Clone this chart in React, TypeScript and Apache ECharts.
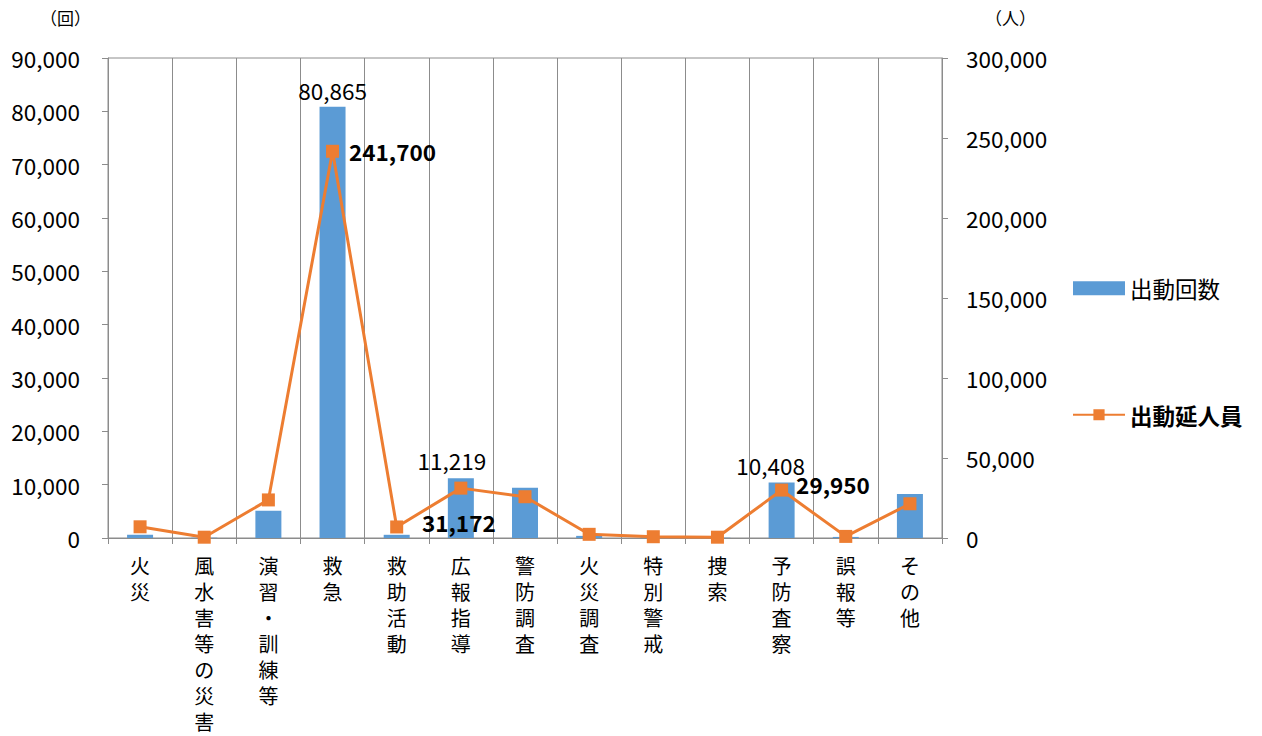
import React, { useEffect, useRef } from "react";
import * as echarts from "echarts";

const categories = [
  "火災",
  "風水害等の災害",
  "演習・訓練等",
  "救急",
  "救助活動",
  "広報指導",
  "警防調査",
  "火災調査",
  "特別警戒",
  "捜索",
  "予防査察",
  "誤報等",
  "その他",
];
const dispatchCounts = [600, 60, 5100, 80865, 600, 11219, 9400, 400, 120, 60, 10408, 200, 8250];
const dispatchPersons = [7000, 500, 23800, 241700, 6900, 31172, 25800, 2300, 800, 500, 29950, 1000, 21400];
const leftTicks = { min: 0, max: 90000, interval: 10000 };
const rightTicks = { min: 0, max: 300000, interval: 50000 };

const FONT = "'Noto Sans CJK JP', 'Noto Sans', sans-serif";
const BAR = "#5B9BD5";
const LINE = "#ED7D31";
const GRIDC = "#8c8c8c";
const NUM = 22.5;
const fmt = (v: number) => v.toLocaleString("en-US");

export default function App() {
  const ref = useRef<HTMLDivElement>(null);
  useEffect(() => {
    document.body.style.margin = "0";
    const chart = echarts.init(ref.current!, null, { renderer: "svg" });

    const barLabels: Record<number, any> = {
      3: { show: true, position: "top", distance: 5 },
      5: { show: true, position: "top", distance: 7, offset: [-9, 0] },
      10: { show: true, position: "top", distance: 6, offset: [-11, 0] },
    };
    const lineLabels: Record<number, any> = {
      3: { show: true, position: "right", distance: 10, fontWeight: "bold" },
      5: { show: true, position: "bottom", distance: 16, offset: [-2, 0], fontWeight: "bold" },
      10: { show: true, position: "right", distance: 8, offset: [0, -6], fontWeight: "bold" },
    };

    const labelBase = {
      fontFamily: FONT,
      fontSize: NUM,
      color: "#000",
      formatter: (p: any) => fmt(p.value),
    };

    chart.setOption({
      animation: false,
      textStyle: { fontFamily: FONT },
      grid: {
        left: 108,
        right: 320,
        top: 58,
        bottom: 198,
        show: true,
        borderColor: GRIDC,
        borderWidth: 1,
      },
      legend: {
        orient: "vertical",
        left: 1072,
        top: 277,
        padding: 0,
        itemGap: 104,
        itemWidth: 52,
        itemHeight: 14,
        textStyle: { fontFamily: FONT, fontSize: NUM, color: "#000" },
        data: [
          { name: "出動回数", icon: "rect" },
          { name: "出動延人員", textStyle: { fontWeight: "bold" } },
        ],
      },
      graphic: [
        { type: "text", left: 40, top: 9, style: { text: "（回）", font: `17px ${FONT}`, fill: "#000" } },
        { type: "text", left: 985, top: 9, style: { text: "（人）", font: `17px ${FONT}`, fill: "#000" } },
      ],
      xAxis: {
        type: "category",
        data: categories,
        axisLine: { lineStyle: { color: GRIDC, width: 1 } },
        axisTick: { show: true, length: 6, lineStyle: { color: GRIDC } },
        splitLine: { show: true, interval: 0, lineStyle: { color: GRIDC, width: 1 } },
        axisLabel: {
          interval: 0,
          margin: 14,
          fontFamily: FONT,
          fontSize: 20,
          lineHeight: 26,
          color: "#000",
          verticalAlign: "top",
          formatter: (v: string) => v.split("").join("\n"),
        },
      },
      yAxis: [
        {
          type: "value",
          ...leftTicks,
          position: "left",
          axisLine: { show: true, lineStyle: { color: GRIDC } },
          axisTick: { show: true, length: 6, lineStyle: { color: GRIDC } },
          splitLine: { show: false },
          axisLabel: { fontFamily: FONT, fontSize: NUM, color: "#000", margin: 28, formatter: fmt },
        },
        {
          type: "value",
          ...rightTicks,
          position: "right",
          axisLine: { show: true, lineStyle: { color: GRIDC } },
          axisTick: { show: true, length: 6, lineStyle: { color: GRIDC } },
          splitLine: { show: false },
          axisLabel: { fontFamily: FONT, fontSize: NUM, color: "#000", margin: 24, formatter: fmt },
        },
      ],
      series: [
        {
          name: "出動回数",
          type: "bar",
          yAxisIndex: 0,
          barWidth: 26,
          itemStyle: { color: BAR },
          data: dispatchCounts.map((v, i) => ({
            value: v,
            label: barLabels[i] ? { ...labelBase, ...barLabels[i] } : { show: false },
          })),
        },
        {
          name: "出動延人員",
          type: "line",
          yAxisIndex: 1,
          symbol: "rect",
          symbolSize: 13,
          z: 5,
          lineStyle: { color: LINE, width: 3 },
          itemStyle: { color: LINE },
          data: dispatchPersons.map((v, i) => ({
            value: v,
            label: lineLabels[i] ? { ...labelBase, ...lineLabels[i] } : { show: false },
          })),
        },
      ],
    });
    return () => chart.dispose();
  }, []);
  return <div ref={ref} style={{ width: 1262, height: 736 }} />;
}
